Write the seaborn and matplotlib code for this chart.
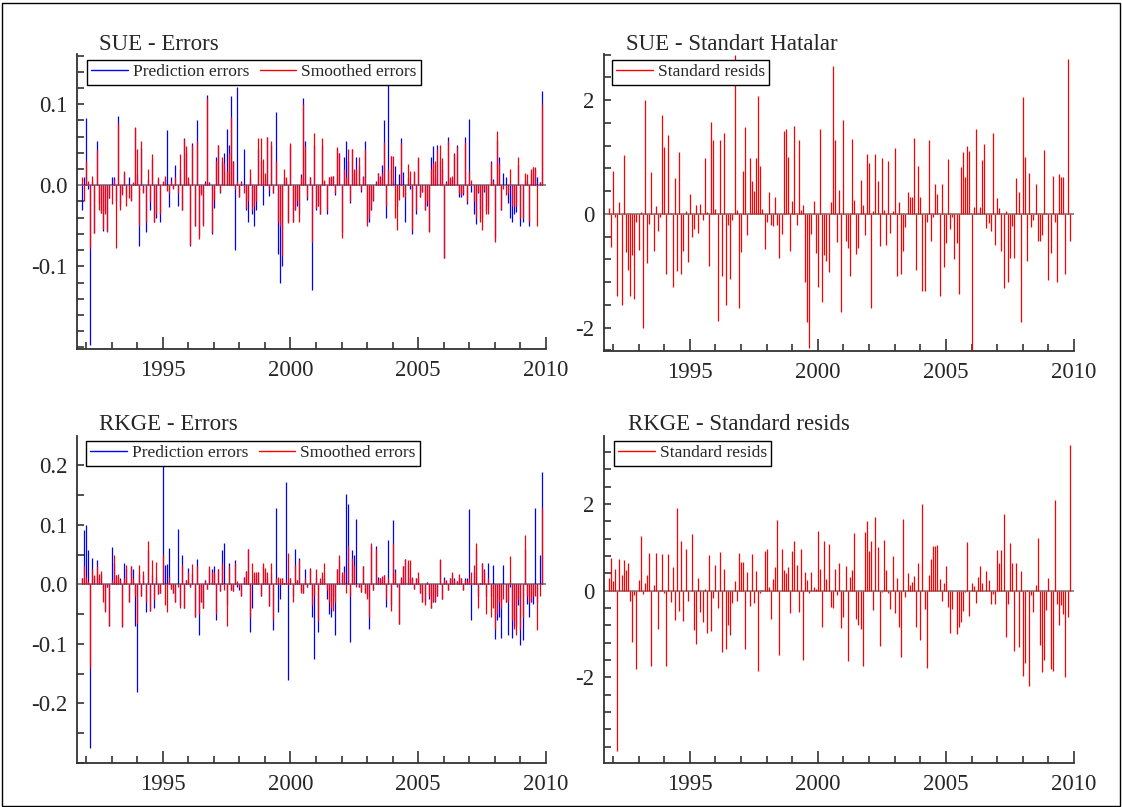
import numpy as np
import pandas as pd
import matplotlib
matplotlib.use('Agg')
import matplotlib.pyplot as plt
from matplotlib.lines import Line2D
from matplotlib.patches import Rectangle
from matplotlib.ticker import MultipleLocator, FixedLocator, FuncFormatter
import seaborn as sns

sns.set_style('ticks')
plt.rcParams['font.family'] = ['Liberation Serif', 'DejaVu Serif']
plt.rcParams['axes.unicode_minus'] = False

# monthly observations, 1991(11) - 2009(11)
months = pd.date_range('1991-11-01', periods=217, freq='MS')

# SUE - prediction errors (blue) and smoothed errors (red)
sue_pred = [
    -0.03, 0.01,
    0.083, -0.005, -0.197, 0.005, -0.059, 0.055, -0.022, -0.034, -0.056, -0.032, -0.057, -0.016,
    0.01, 0.01, -0.02, 0.086, -0.026, -0.01, 0.015, -0.015, 0.01, -0.018, 0.002, 0.071,
    0.014, -0.075, 0.046, -0.008, -0.058, 0.008, -0.03, 0.032, -0.045, -0.04, 0.008, -0.045,
    0.002, 0.008, 0.068, -0.027, 0.01, -0.003, 0.025, -0.026, 0.02, -0.03, 0.058, 0.04,
    0.004, -0.075, 0.052, -0.05, 0.08, -0.062, -0.01, -0.048, 0.005, 0.111, 0.004, -0.06,
    -0.028, 0.035, 0.05, -0.01, 0.03, 0.04, 0.07, 0.05, 0.11, 0.03, -0.08, 0.121,
    -0.015, 0.005, 0.045, -0.03, -0.045, 0.01, -0.035, -0.05, -0.03, 0.045, 0.03, -0.024,
    0.008, 0.06, -0.013, 0.05, -0.01, 0.09, -0.085, -0.12, -0.1, 0.01, 0.005, -0.045,
    0.05, -0.045, -0.03, -0.025, -0.035, 0.014, 0.108, 0.055, -0.018, 0.01, -0.129, 0.05,
    -0.03, -0.025, -0.035, 0.05, 0.005, -0.035, 0.01, 0.01, 0.012, -0.012, 0.045, 0.04,
    -0.058, 0.035, 0.055, 0.03, -0.022, 0.045, 0.015, 0.035, 0.025, -0.008, 0.012, 0.055,
    -0.045, -0.045, -0.03, -0.02, 0.005, 0.015, 0.012, 0.025, 0.08, -0.04, 0.148, 0.036,
    0.005, 0.024, -0.025, 0.014, 0.058, 0.016, -0.045, 0.01, -0.005, -0.06, 0.016, -0.035,
    0.033, -0.014, -0.008, -0.03, -0.025, -0.056, 0.035, 0.048, 0.012, 0.05, 0.03, 0.02,
    -0.09, 0.005, 0.06, 0.008, 0.008, 0.04, 0.05, -0.015, -0.015, -0.012, 0.06, -0.023,
    0.082, -0.008, -0.035, -0.048, -0.01, -0.03, -0.04, -0.008, -0.03, -0.025, 0.03, 0.008,
    -0.065, 0.056, 0.035, -0.03, 0.015, 0.01, -0.022, -0.04, -0.045, -0.035, -0.033, 0.025,
    -0.05, -0.045, 0.007, 0.005, -0.05, 0.015, 0.022, 0.02, 0.01, 0.004, 0.116,
]
sue_smooth = [
    0.01, -0.02,
    0.03, 0.005, -0.077, 0.012, -0.059, 0.043, -0.03, -0.034, -0.054, -0.036, -0.058, -0.016,
    -0.023, 0.008, -0.077, 0.077, -0.03, -0.012, 0.018, -0.025, -0.016, -0.02, 0.004, 0.072,
    0.045, -0.05, 0.055, -0.01, -0.045, 0.02, -0.02, 0.039, -0.045, -0.035, 0.01, -0.035,
    0.005, 0.012, -0.007, -0.01, 0.005, -0.005, 0.01, -0.01, 0.038, -0.03, 0.057, 0.048,
    0.01, -0.074, 0.05, -0.05, 0.055, -0.066, -0.012, -0.05, 0.003, 0.108, 0.004, -0.058,
    -0.018, 0.03, 0.05, -0.008, 0.035, 0.027, 0.018, 0.04, 0.084, 0.03, -0.005, 0.005,
    -0.015, 0.004, -0.01, -0.028, -0.02, 0.02, -0.03, -0.025, -0.02, 0.058, 0.058, 0.032,
    0.015, 0.06, -0.005, 0.055, -0.01, 0.03, -0.045, -0.05, -0.087, 0.02, 0.01, -0.047,
    0.052, -0.045, -0.03, -0.02, -0.045, 0.01, 0.1, 0.048, -0.015, 0.01, -0.07, 0.064,
    -0.028, -0.025, -0.035, 0.058, 0.007, -0.03, 0.01, 0.012, 0.012, -0.01, 0.047, 0.04,
    -0.065, 0.02, 0.01, 0.045, -0.02, 0.045, 0.02, 0.02, 0.035, -0.006, 0.01, 0.045,
    -0.05, -0.04, -0.03, -0.018, 0.004, 0.015, 0.01, 0.015, 0.053, -0.025, 0.02, 0.036,
    0.036, -0.04, -0.055, -0.018, 0.052, -0.014, -0.015, 0.026, 0.018, -0.055, 0.018, -0.03,
    0.035, -0.015, -0.008, -0.03, -0.02, -0.058, 0.02, 0.027, 0.03, 0.045, 0.05, 0.034,
    -0.09, 0.004, 0.055, 0.01, 0.012, 0.038, 0.047, -0.01, -0.012, -0.01, 0.054, -0.02,
    0.018, 0.007, -0.02, -0.04, -0.008, -0.045, -0.055, -0.006, -0.035, -0.036, 0.027, 0.005,
    -0.07, 0.067, 0.028, -0.03, -0.005, -0.012, -0.01, 0.02, -0.025, -0.025, -0.025, 0.035,
    -0.04, -0.04, 0.015, 0.014, -0.045, 0.02, 0.023, 0.022, -0.05, 0.004, 0.1,
]

# SUE - standardised residuals
sue_std = [
    0.1, -0.58, 0.75, -0.05, -1.45, 0.2, -1.6, 1.03, -0.67, -0.98, -1.44, -0.73, -1.5, -0.15,
    -0.64, 0.03, -2.0, 2.0, -0.87, -0.17, 0.73, -0.66, 0.14, -0.3, -0.05, 1.73, 1.17, -1.05,
    1.38, 0.02, -1.28, 0.63, -1.0, 1.08, -1.05, -0.65, 0.05, -0.85, 0.35, -0.4, -0.27, 0.15,
    -0.34, 0.17, -0.1, 0.98, 0.03, -0.92, 1.62, 1.3, 0.08, -1.88, 1.3, -1.1, 1.43, -1.6, -0.2,
    -1.15, -0.1, 2.8, 0.07, -1.65, -0.67, 0.75, 1.53, -0.38, 0.98, 0.57, 0.4, 0.98, 2.08,
    0.85, 0.08, -0.62, -0.15, 0.38, -0.2, -0.22, 0.3, -0.2, -0.78, -0.35, 1.45, 1.5, 1.0,
    -0.65, 0.22, 1.54, -0.2, 1.3, 0.06, 0.15, -1.2, -1.9, -2.35, -0.35, 0.22, -0.68, -1.28,
    1.5, -1.55, -0.73, -0.83, -1.03, 0.2, 2.6, 1.3, -0.5, 0.42, -1.72, 1.65, -0.48, -0.6,
    -1.1, 1.32, 0.24, -0.7, -0.6, 0.6, 0.15, -0.38, 1.06, 0.9, -1.65, 0.05, 1.06, 0.57,
    -0.56, 0.98, 0.06, -0.55, 0.93, -0.33, 0.05, 1.16, -1.1, 0.2, -1.06, -0.65, -0.23, 0.38,
    0.3, 0.3, 1.34, -0.98, 0.85,
    0.3, -1.35, -1.35, -0.15, 1.3, -0.48, -0.05, 0.53, 0.35, -1.45, 0.52, -0.93, -0.52, 0.96,
    -0.27, -0.05, -0.8, -0.52, -1.4, 0.82, 1.08, 0.64, 1.2, 1.1, -2.4, 0.12, 1.5, 0.02, 0.12,
    0.95, 1.23, -0.25, -0.16, -0.3, 1.43, -0.55, 0.28, 0.1, -0.65, -1.3, 0.05, -1.2, -0.77,
    -0.22, -0.77, 0.63, 0.38, -1.9, 2.05, 1.0, -0.82, 0.72, -0.23, -0.1, 0.52, -0.47, -0.48,
    -0.38, 1.12, 0.01, -1.16, -0.69, 0.67, -0.15, -1.2, 0.7, 0.65, 0.65, -1.06, 2.73, -0.47,
]

# RKGE - prediction errors (blue) and smoothed errors (red)
rkge_pred = [
    0.01, 0.092, 0.1, 0.058, -0.274, 0.045, 0.012, 0.04, 0.012, 0.018, -0.01, -0.045, -0.005,
    -0.07, 0.063, 0.035, 0.015, 0.012, 0.01, -0.072, 0.035, 0.025, -0.03, 0.03, 0.025, -0.07,
    -0.18, 0.018, -0.02, 0.015, -0.046, 0.058, -0.045, 0.015, -0.04, 0.012, -0.016, -0.015,
    0.213, 0.033, 0.034, 0.061, -0.008, -0.015, -0.03, 0.093, -0.035, 0.05, -0.04, 0.008,
    0.027, -0.005, 0.018, -0.055, 0.043, -0.085, -0.03, -0.04, 0.008, -0.008, 0.026, 0.025,
    0.03, -0.06, 0.025, -0.012, 0.058, 0.07, -0.035, 0.035, -0.01, -0.012, 0.04, -0.005,
    -0.01, -0.02, 0.012, 0.022, 0.06, -0.08, -0.04, 0.017, 0.015, 0.02, -0.02, 0.03, 0.02,
    0.01, -0.036, 0.018, -0.077, 0.128, -0.047, -0.025, 0.01, 0.002, 0.172, -0.16, 0.01,
    -0.02, 0.06, 0.008, 0.045, -0.012, -0.015, 0.025, -0.005, 0.027, -0.055, -0.125, 0.012,
    -0.08, 0.005, 0.015, 0.01, -0.025, -0.05, -0.055, -0.02, -0.085, 0.025, 0.04, 0.015,
    0.03, 0.152, 0.134, -0.097, 0.058, 0.05, 0.11, -0.005, -0.013, 0.03, -0.015, -0.02,
    -0.075, 0.065, -0.01, 0.065, 0.012, 0.01, 0.012, 0.015, -0.038, 0.074, -0.035, 0.108,
    0.025, -0.005, -0.067,
    0.012, 0.03, 0.042, 0.035, 0.013, 0.01, -0.008, 0.01, 0.01, -0.015, -0.03, -0.03, 0.004,
    -0.025, -0.04, -0.03, -0.03, -0.02, 0.04, -0.025, 0.012, 0.007, -0.01, 0.01, 0.015, 0.01,
    0.005, 0.012, 0.01, -0.01, 0.01, 0.01,
    0.127, -0.06, 0.02, 0.06, -0.02, 0.003, 0.035, 0.025, -0.02, 0.035, -0.02, 0.033, -0.092,
    -0.06, -0.055, -0.09, 0.033, -0.03, -0.085, -0.005, -0.09, -0.07, -0.07, -0.035, -0.102,
    -0.094, 0.06, -0.033, -0.055, -0.03, -0.033, 0.128, -0.03, 0.05, 0.189,
]
rkge_smooth = [
    0.01, 0.03, 0.012, 0.005, -0.14, 0.025, 0.015, 0.03, 0.018, 0.023, -0.03, -0.046, -0.004,
    -0.07, 0.008, 0.05, 0.015, 0.017, 0.008, -0.07, 0.01, 0.033, -0.03, 0.03, 0.01, -0.02,
    -0.065, 0.033, -0.02, 0.022, -0.03, 0.072, -0.045, 0.04, -0.027, 0.037, -0.016, -0.015,
    0.05, -0.035, -0.047, 0.012, -0.008, -0.015, -0.03, -0.005, -0.04, 0.033, -0.04, 0.008,
    0.02, -0.005, 0.034, -0.055, 0.03, -0.05, -0.03, -0.04, 0.008, -0.008, 0.03, 0.02,
    0.02, -0.05, 0.025, -0.012, 0.035, -0.01, -0.07, 0.03, -0.01, -0.012, 0.036, 0.005,
    -0.005, -0.02, 0.012, 0.022, 0.06, -0.055, 0.035, 0.02, 0.02, 0.02, -0.02, 0.035, 0.028,
    0.02, -0.036, 0.035, -0.06, 0.01, 0.012, 0.01, 0.01, 0.002, 0.005, 0.052, 0.01,
    -0.03, 0.033, 0.008, 0.04, -0.015, -0.015, 0.01, -0.005, 0.025, -0.035, -0.02, 0.025,
    -0.062, 0.01, 0.02, 0.035, -0.01, -0.03, -0.04, -0.045, -0.03, 0.026, 0.05, 0.02,
    0.02, -0.015, 0.065, -0.02, 0.045, 0.033, -0.005, -0.005, -0.013, 0.03, -0.015, -0.025,
    -0.055, 0.07, -0.01, 0.06, 0.007, 0.01, 0.014, 0.015, -0.025, 0.01, -0.045, 0.07,
    0.02, -0.003, -0.067,
    0.01, 0.03, 0.042, 0.04, 0.04, 0.012, -0.008, 0.01, 0.02, -0.015, -0.03, -0.035, 0.004,
    -0.02, -0.04, -0.03, -0.028, -0.02, 0.043, -0.025, 0.008, 0.005, -0.01, 0.01, 0.02, 0.008,
    0.005, 0.018, 0.01, -0.01, 0.008, 0.005,
    0.01, 0.02, 0.033, 0.07, -0.04, 0.003, 0.035, 0.023, -0.05, 0.01, -0.055, -0.04, -0.075,
    -0.05, -0.03, -0.04, -0.025, -0.03, -0.03, 0.047, -0.06, -0.075, -0.085, -0.025, -0.075,
    -0.055, 0.082, -0.02, -0.03, -0.03, -0.02, -0.02, -0.077, -0.02, 0.128,
]

# RKGE - standardised residuals
rkge_std = [
    0.3, 0.75, 0.22, 0.5, -3.7, 0.72, 0.35, 0.7, 0.47, 0.63, -0.25, -1.18, -0.1, -1.82, 0.25,
    1.27, -0.07, 0.18, 0.35, 0.86, -1.75, 0.13, 0.86, -0.88, 0.02, 0.84, -0.05, -1.73, 0.84,
    -0.27, 0.55, -0.67, 1.9, -0.48, 1.14, -0.7, 0.95, -0.25, -0.02, 1.31, -0.92, -1.23, 0.3,
    -0.5, -0.72, 0.03, -0.97, 0.82, -0.93, -0.18, 0.6, -0.4, 0.9, -1.42, 0.5, -1.35, -0.8,
    -1.03, -0.28, 0.23, -0.25, 0.86, 0.67, 0.67, -1.35, 0.43, -0.35, 0.85, -0.28, 0.45, -1.86,
    -0.05, 0.02, 0.92, 0.95, 0.08, -0.65, 0.27, 0.55, 1.63, -1.48, 0.95, 0.47, 0.4, 0.55,
    -0.52, 0.92, 1.15, 0.6, -0.5, 0.97, -1.6, 0.43, 0.25, -0.05, 0.43, 0.08, 0.03, 1.38, 0.5,
    -0.83, 1.15, 0.27, 1.08, -0.37, -0.4, 0.5, -0.1, 0.63, -0.87, -0.6, 0.58, -1.62, 0.32,
    0.47, 1.33, -0.65, -0.8, -0.88, -1.75, 1.35, 1.6, 0.92, 1.15, -0.45, 1.7, 1.0, -1.27,
    -0.03, 1.18, 0.47, -0.05, -0.42, 0.8, -0.52, 0.28, -0.83, -1.53, 1.66, -0.15, 0.4, 0.12,
    0.2, 0.33, -0.85, 0.63,
    -1.15, 2.0, -0.42, -1.78, 0.35, 0.73, 1.03, 1.03, 1.05, 0.27, -0.23, 0.18, 0.57, -0.37,
    -0.97, -0.42, 0.0, -1.0, -0.83, -0.72, -0.48, -0.03, 1.12, -0.58, 0.17, 0.1, -0.28, 0.32,
    0.57, 0.17, 0.0, 0.45, 0.25, -0.3, -0.08, -0.3, 0.93, 0.63, 0.93, 1.78, -1.07, -0.3, 1.1,
    0.63, -1.4, 0.63, -1.3, 0.45, -1.97, -1.67, 0.02, -2.2, -0.1, -0.5, 0.13, 1.22, -1.26,
    -1.87, -1.6, -0.45, 0.28, -1.8, -1.85, 2.1, -0.3, -0.8, -0.33, -0.55, -2.0, -0.6, 3.37,
]

titles = ['SUE - Errors', 'SUE - Standart Hatalar', 'RKGE - Errors', 'RKGE - Standard resids']
err_ticks_sue = [-0.1, 0.0, 0.1]
err_ticks_rkge = [-0.2, -0.1, 0.0, 0.1, 0.2]
std_ticks = [-2, 0, 2]

df = pd.DataFrame({
    't': months.year + (months.month - 1) / 12,
    'sue_pred': sue_pred, 'sue_smooth': sue_smooth, 'sue_std': sue_std,
    'rkge_pred': rkge_pred, 'rkge_smooth': rkge_smooth, 'rkge_std': rkge_std,
})

W, H = 1122, 807
fig = plt.figure(figsize=(W / 100, H / 100), dpi=100)
fig.add_artist(Rectangle((1.5 / W, 1.5 / H), (W - 4) / W, (H - 4) / H,
                         transform=fig.transFigure, fill=False, ec='black', lw=1))


def px_axes(l, tp, r, b):
    return fig.add_axes([l / W, 1 - b / H, (r - l) / W, (b - tp) / H])


def style(ax, ylim, majors, minor, fmt):
    ax.set_xlim(1991.65, 2010.0)
    ax.set_ylim(*ylim)
    ax.axhline(0, color='#8c8c8c', lw=1.4, zorder=1)
    for s in ['top', 'right']:
        ax.spines[s].set_visible(False)
    for s in ['left', 'bottom']:
        ax.spines[s].set_color('#333333')
        ax.spines[s].set_linewidth(1.3)
    ax.xaxis.set_major_locator(MultipleLocator(5))
    ax.xaxis.set_minor_locator(MultipleLocator(1))
    ax.yaxis.set_major_locator(FixedLocator(majors))
    ax.yaxis.set_minor_locator(MultipleLocator(minor))
    ax.xaxis.set_major_formatter(FuncFormatter(lambda v, p: f'{v:.0f}'))
    ax.yaxis.set_major_formatter(FuncFormatter(lambda v, p: fmt.format(v + 0.0)))
    ax.tick_params(which='both', direction='in', labelsize=16.5, color='#333333', width=1.2)
    ax.tick_params(axis='x', which='major', length=9, pad=8)
    ax.tick_params(axis='x', which='minor', length=5)
    ax.tick_params(axis='y', which='both', length=5, pad=7)


def legend(ax, items, anchor):
    handles = [Line2D([], [], color=c, lw=1) for c, _ in items]
    lg = ax.legend(handles, [n for _, n in items], loc='upper left', bbox_to_anchor=anchor,
                   ncol=len(items), fontsize=12.5, frameon=True, fancybox=False,
                   framealpha=1, edgecolor='black', borderaxespad=0, borderpad=0.25,
                   handlelength=2.1, handletextpad=0.3, columnspacing=0.6)
    lg.get_frame().set_linewidth(1.0)


lw = 0.9

# top-left
ax = px_axes(77, 54, 546, 349)
ax.vlines(df['t'], 0, df['sue_pred'], color='#0000ff', lw=lw, zorder=2)
ax.vlines(df['t'], 0, df['sue_smooth'], color='#ff0000', lw=lw, zorder=3)
style(ax, (-0.202, 0.162), err_ticks_sue, 0.02, '{:.1f}')
legend(ax, [('#0000ff', 'Prediction errors'), ('#ff0000', 'Smoothed errors')], (10 / 469, 1 - 6 / 295))

# top-right
ax = px_axes(604, 54, 1074, 351)
ax.vlines(df['t'], 0, df['sue_std'], color='#ff0000', lw=lw, zorder=3)
style(ax, (-2.41, 2.81), std_ticks, 0.4, '{:.0f}')
legend(ax, [('#ff0000', 'Standard resids')], (8 / 470, 1 - 6 / 297))

# bottom-left
ax = px_axes(77, 436, 546, 763)
ax.vlines(df['t'], 0, df['rkge_pred'], color='#0000ff', lw=lw, zorder=2)
ax.vlines(df['t'], 0, df['rkge_smooth'], color='#ff0000', lw=lw, zorder=3)
style(ax, (-0.300, 0.249), err_ticks_rkge, 0.05, '{:.1f}')
legend(ax, [('#0000ff', 'Prediction errors'), ('#ff0000', 'Smoothed errors')], (9 / 469, 1 - 5 / 327))

# bottom-right
ax = px_axes(604, 436, 1074, 763)
ax.vlines(df['t'], 0, df['rkge_std'], color='#ff0000', lw=lw, zorder=3)
style(ax, (-3.98, 3.57), std_ticks, 0.4, '{:.0f}')
legend(ax, [('#ff0000', 'Standard resids')], (10 / 470, 1 - 5 / 327))

# panel titles
for (x, y), s in zip([(99, 50), (626, 50), (99, 430), (628, 430)], titles):
    fig.text(x / W, 1 - y / H, s, fontsize=16.5, va='baseline', ha='left')

fig.savefig('out.png', dpi=100)
